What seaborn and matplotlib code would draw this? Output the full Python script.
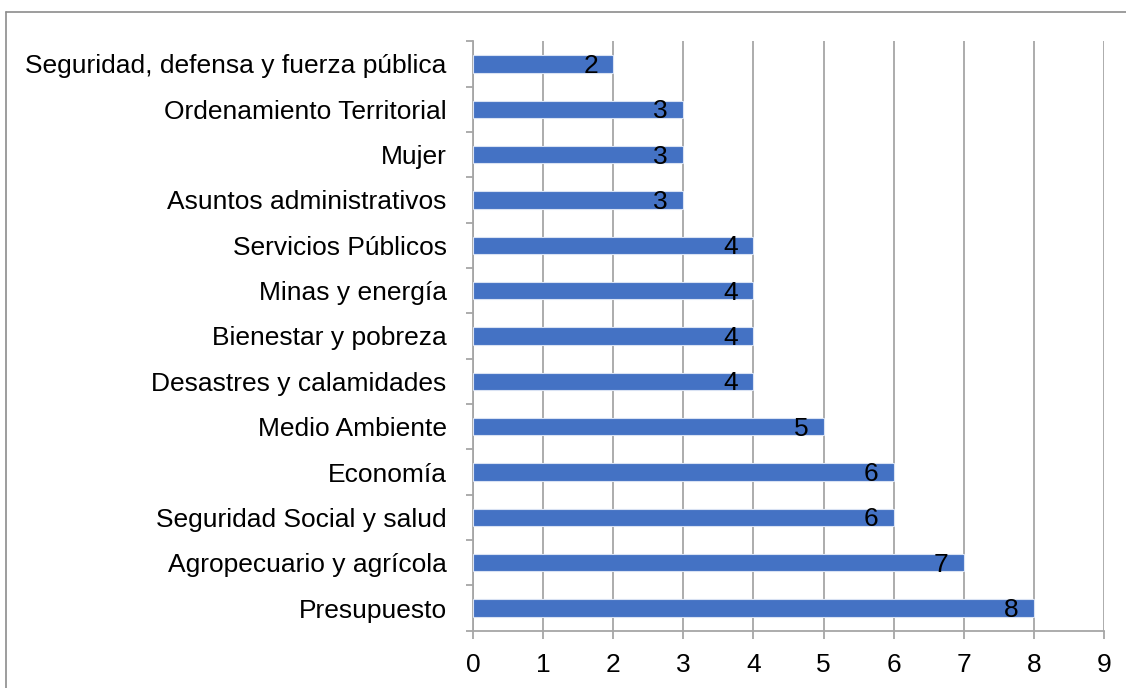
import matplotlib
matplotlib.use("Agg")
import matplotlib.pyplot as plt
import seaborn as sns
import pandas as pd
from matplotlib.lines import Line2D
from matplotlib.ticker import FixedLocator

# -----------------------------------------------
# Data (top to bottom)
# -----------------------------------------------
categories = [
    "Seguridad, defensa y fuerza pública",
    "Ordenamiento Territorial",
    "Mujer",
    "Asuntos administrativos",
    "Servicios Públicos",
    "Minas y energía",
    "Bienestar y pobreza",
    "Desastres y calamidades",
    "Medio Ambiente",
    "Economía",
    "Seguridad Social y salud",
    "Agropecuario y agrícola",
    "Presupuesto",
]
values = [2, 3, 3, 3, 4, 4, 4, 4, 5, 6, 6, 7, 8]
x_ticks = [0, 1, 2, 3, 4, 5, 6, 7, 8, 9]

df = pd.DataFrame({"tema": categories, "n": values})

# -----------------------------------------------
# Style
# -----------------------------------------------
sns.set_style("white")
plt.rcParams["font.family"] = ["Liberation Sans", "DejaVu Sans"]

grid_gray = "#A6A6A6"
bar_blue = "#4472C4"

fig = plt.figure(figsize=(11.26, 6.88), dpi=100)
ax = fig.add_axes([0.42, 0.0833, 0.5605, 0.8567])

sns.barplot(data=df, x="n", y="tema", color=bar_blue, width=0.38,
            edgecolor="#D9E2F3", linewidth=0.8, saturation=1, ax=ax, zorder=3)

ax.set_xlim(0, 9)
ax.set_ylim(len(categories) - 0.5, -0.5)
ax.set_xticks(x_ticks)
ax.set_xlabel("")
ax.set_ylabel("")

# vertical gridlines
ax.grid(axis="x", color=grid_gray, linewidth=1.3, zorder=0)
ax.set_axisbelow(True)

for side in ["top", "right"]:
    ax.spines[side].set_visible(False)
for side in ["left", "bottom"]:
    ax.spines[side].set_color(grid_gray)
    ax.spines[side].set_linewidth(1.3)

# ticks like Excel: x ticks outward, y ticks between categories
ax.tick_params(axis="x", which="major", direction="out", length=6, width=1.3,
               color=grid_gray, labelsize=19, labelcolor="black", pad=10, bottom=True)
ax.tick_params(axis="y", which="major", length=0, labelsize=19, labelcolor="black",
               pad=19, left=False)
ax.yaxis.set_minor_locator(FixedLocator([k + 0.5 for k in range(-1, len(categories))]))
ax.tick_params(axis="y", which="minor", direction="out", length=5, width=1.3,
               color=grid_gray, left=True)

# data labels inside the bar end
for i, v in enumerate(values):
    ax.annotate(str(v), xy=(v, i), xytext=(-11, -1.5), textcoords="offset points",
                ha="right", va="center", fontsize=19, color="black", zorder=4)

# chart border (top and left visible in the crop)
fig.add_artist(Line2D([6 / 1126, 1.0], [1 - 12 / 688, 1 - 12 / 688],
                      transform=fig.transFigure, color="#8C8C8C", linewidth=1.2))
fig.add_artist(Line2D([6 / 1126, 6 / 1126], [0.0, 1 - 12 / 688],
                      transform=fig.transFigure, color="#8C8C8C", linewidth=1.2))

fig.savefig("out.png", dpi=100, facecolor="white")
